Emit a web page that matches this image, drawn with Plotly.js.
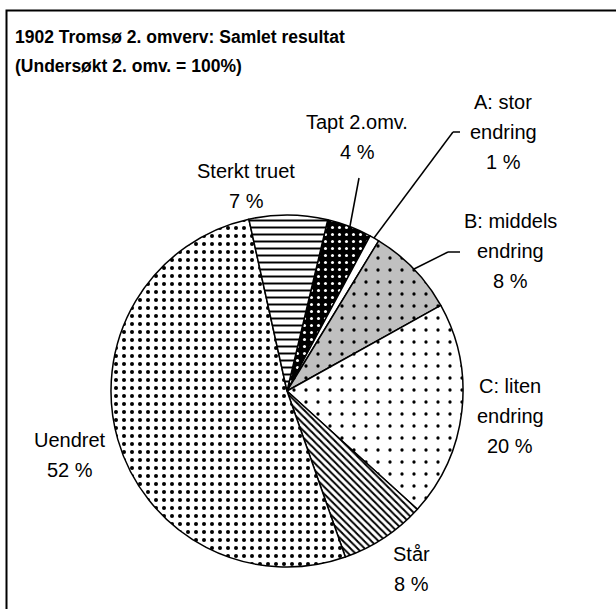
<!DOCTYPE html>
<html><head><meta charset="utf-8">
<script src="https://cdn.plot.ly/plotly-3.0.1.min.js"></script>
<style>html,body{margin:0;padding:0;background:#fff;overflow:hidden}#chart{width:616px;height:609px}</style>
</head><body><div id="chart"></div>
<script>
// ---- data ----
const categories = ["Tapt 2.omv.", "A: stor endring", "B: middels endring", "C: liten endring", "Står", "Uendret", "Sterkt truet"];
const values = [4.1, 0.9, 8.2, 19.8, 7.9, 51.9, 7.2];
const labelLines = [["Tapt 2.omv."], ["A: stor", "endring"], ["B: middels", "endring"], ["C: liten", "endring"], ["Står"], ["Uendret"], ["Sterkt truet"]];
const titleLines = ["1902 Tromsø 2. omverv: Samlet resultat", "(Undersøkt 2. omv. = 100%)"];

// ---- styles ----
const W = 616, H = 609;
const px = x => x / W, py = y => 1 - y / H;
const bg = ["#000000", "#ffffff", "#c0c0c0", "#ffffff", "#ffffff", "#ffffff", "#ffffff"];
const fg = ["#ffffff", "#000000", "#000000", "#000000", "#000000", "#000000", "#000000"];
const shp = [".", "", ".", ".", "\\", ".", "-"];
const psize = [7, 8, 12, 12, 5, 8, 7];
const psol = [0.15, 0.1, 0.06, 0.06, 0.4, 0.2, 0.28];
const labelPos = [[357, 122], [503, 102], [510, 221], [510, 386], [411, 554], [70, 440], [246, 171]];
const lineGap = 30;
const FONT = "Liberation Sans, Arial, sans-serif";

const total = values.reduce((a, b) => a + b, 0);
const annotations = [];
titleLines.forEach((t, i) => annotations.push({
  text: t, xref: "paper", yref: "paper", x: px(13), y: py(37 + i * 29),
  xanchor: "left", yanchor: "middle", showarrow: false,
  font: {family: FONT, size: 17.5, color: "#000", weight: "bold"}
}));
categories.forEach((c, i) => {
  const lines = labelLines[i].concat([Math.round(values[i] / total * 100) + " %"]);
  lines.forEach((t, j) => annotations.push({
    text: t, xref: "paper", yref: "paper", x: px(labelPos[i][0]), y: py(labelPos[i][1] + j * lineGap),
    xanchor: "center", yanchor: "middle", showarrow: false,
    font: {family: FONT, size: 20, color: "#000"}
  }));
});

const seg = (a, b) => ({type: "line", xref: "paper", yref: "paper",
  x0: px(a[0]), y0: py(a[1]), x1: px(b[0]), y1: py(b[1]), line: {color: "#000", width: 1.5}});

const shapes = [
  {type: "rect", xref: "paper", yref: "paper", x0: px(6.5), y0: py(10.5), x1: 1.1, y1: -0.1,
   line: {color: "#000", width: 2}, fillcolor: "rgba(0,0,0,0)"},
  seg([350, 226], [359, 178]),
  seg([374, 238], [453, 132]), seg([453, 132], [460, 132]),
  seg([414, 269], [448, 252]), seg([448, 252], [460, 252])
];

const trace = {
  type: "pie", labels: categories, values: values, sort: false,
  direction: "clockwise", rotation: 13.4,
  textinfo: "none", hoverinfo: "none", showlegend: false,
  domain: {x: [px(111), px(463)], y: [py(567), py(215)]},
  marker: {colors: bg, line: {color: "#000", width: 1.5},
    pattern: {shape: shp, fgcolor: fg, bgcolor: bg, size: psize, solidity: psol, fillmode: "replace"}}
};

Plotly.newPlot("chart", [trace], {
  width: W, height: H, margin: {l: 0, r: 0, t: 0, b: 0},
  paper_bgcolor: "#fff", showlegend: false,
  annotations: annotations, shapes: shapes
}, {staticPlot: true});
</script>
</body></html>
